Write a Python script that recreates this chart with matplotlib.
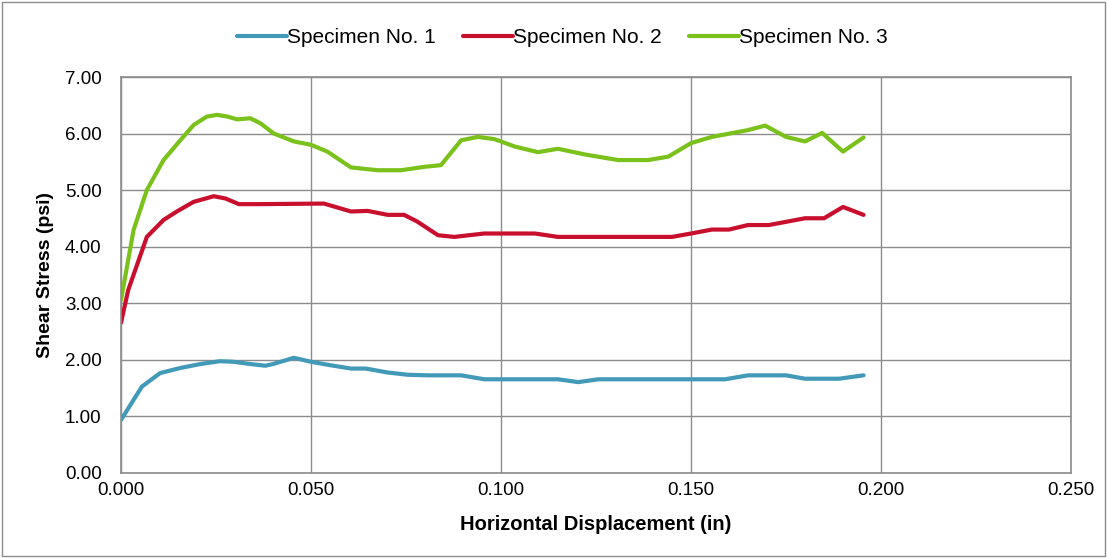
import matplotlib.pyplot as plt
from matplotlib.patches import Rectangle

# values
x1 = [0.0, 0.0055, 0.0103, 0.0156, 0.0209, 0.026, 0.0296, 0.034, 0.038, 0.040, 0.0455,
      0.050, 0.055, 0.0605, 0.0644, 0.0702, 0.0755, 0.0808, 0.0895, 0.0956, 0.103,
      0.115, 0.1203, 0.1256, 0.150, 0.159, 0.165, 0.175, 0.180, 0.189, 0.1954]
y1 = [0.93, 1.52, 1.76, 1.85, 1.92, 1.97, 1.96, 1.92, 1.89, 1.92, 2.03,
      1.96, 1.90, 1.84, 1.84, 1.77, 1.73, 1.72, 1.72, 1.65, 1.65,
      1.65, 1.60, 1.65, 1.65, 1.65, 1.72, 1.72, 1.66, 1.66, 1.72]

x2 = [0.0, 0.0019, 0.0068, 0.0112, 0.0147, 0.0191, 0.0244, 0.0275, 0.031, 0.0367, 0.0534,
      0.0605, 0.0649, 0.0702, 0.0745, 0.078, 0.0834, 0.0877, 0.0956, 0.1089, 0.115,
      0.145, 0.150, 0.1555, 0.160, 0.165, 0.1705, 0.180, 0.185, 0.190, 0.1954]
y2 = [2.65, 3.23, 4.17, 4.47, 4.62, 4.79, 4.89, 4.85, 4.75, 4.75, 4.76,
      4.62, 4.63, 4.56, 4.56, 4.44, 4.20, 4.17, 4.23, 4.23, 4.17,
      4.17, 4.23, 4.30, 4.30, 4.38, 4.38, 4.50, 4.50, 4.70, 4.56]

x3 = [0.0, 0.0033, 0.0068, 0.0112, 0.0156, 0.0191, 0.0226, 0.0253, 0.028, 0.0306, 0.034,
      0.0367, 0.0402, 0.0455, 0.050, 0.0543, 0.0605, 0.0675, 0.0737, 0.0798, 0.0842,
      0.0895, 0.0939, 0.0983, 0.1036, 0.1097, 0.115, 0.122, 0.1308, 0.1387, 0.144,
      0.150, 0.1555, 0.165, 0.1695, 0.175, 0.180, 0.1845, 0.190, 0.1954]
y3 = [3.05, 4.29, 5.00, 5.53, 5.88, 6.15, 6.30, 6.33, 6.30, 6.25, 6.27,
      6.18, 6.00, 5.86, 5.80, 5.68, 5.40, 5.35, 5.35, 5.41, 5.44,
      5.88, 5.94, 5.90, 5.77, 5.67, 5.73, 5.63, 5.53, 5.53, 5.59,
      5.83, 5.94, 6.06, 6.14, 5.94, 5.86, 6.01, 5.68, 5.93]

labels = ['Specimen No. 1', 'Specimen No. 2', 'Specimen No. 3']
colors = ['#4399b8', '#c8102e', '#7bc11c']

plt.rcParams['font.family'] = ['Liberation Sans', 'DejaVu Sans']

fig = plt.figure(figsize=(11.07, 5.58), dpi=100)
ax = fig.add_axes([0.1093, 0.1532, 0.8582, 0.7088])

for xs, ys, lab, c in zip([x1, x2, x3], [y1, y2, y3], labels, colors):
    ax.plot(xs, ys, color=c, lw=3, label=lab, solid_joinstyle='round', solid_capstyle='round')

ax.set_xlim(0, 0.25)
ax.set_ylim(0, 7)
ax.set_xticks([0, 0.05, 0.1, 0.15, 0.2, 0.25])
ax.set_xticklabels(['0.000', '0.050', '0.100', '0.150', '0.200', '0.250'])
ax.set_yticks(range(8))
ax.set_yticklabels(['%.2f' % v for v in range(8)])
ax.tick_params(labelsize=13.5, length=0, labelcolor='black')
ax.tick_params(axis='y', pad=14)
ax.tick_params(axis='x', pad=7)
ax.grid(True, color='#8c8c8c', lw=1)
ax.set_axisbelow(True)
for s in ax.spines.values():
    s.set_color('#8c8c8c')
    s.set_linewidth(1.2)

ax.set_xlabel('Horizontal Displacement (in)', fontsize=14.5, fontweight='bold', labelpad=11)
ax.set_ylabel('Shear Stress (psi)', fontsize=14, fontweight='bold', labelpad=8)

fig.legend(loc='center', bbox_to_anchor=(0.508, 0.932), ncol=3, frameon=False, fontsize=15,
           handlelength=2.4, handletextpad=0.0, columnspacing=1.3)

fig.patches.append(Rectangle((0.002, 0.003), 0.996, 0.994, transform=fig.transFigure,
                             fill=False, edgecolor='#8c8c8c', lw=1))

fig.savefig('out.png', dpi=100)
